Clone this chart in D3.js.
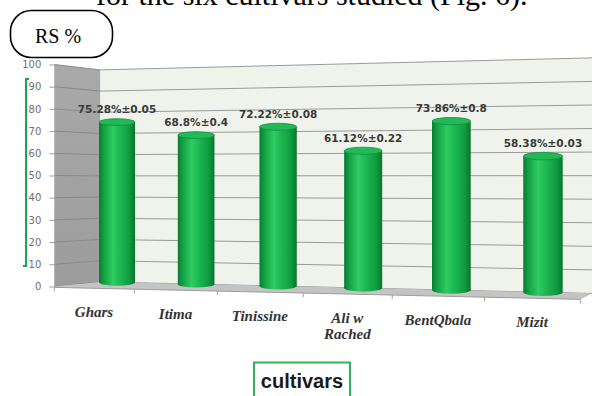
<!DOCTYPE html>
<html>
<head>
<meta charset="utf-8">
<script src="https://cdn.jsdelivr.net/npm/d3@7"></script>
<style>
  html, body { margin: 0; padding: 0; background: #fff; }
  svg { display: block; }
</style>
</head>
<body>
<svg id="chart" width="592" height="396"></svg>
<script>
// ---- data ----
const categories = ["Ghars", "Itima", "Tinissine", "Ali w Rached", "BentQbala", "Mizit"];
const categoryLines = [["Ghars"], ["Itima"], ["Tinissine"], ["Ali w", "Rached"], ["BentQbala"], ["Mizit"]];
const values = [75.28, 68.8, 72.22, 61.12, 73.86, 58.38];
const errors = [0.05, 0.4, 0.08, 0.22, 0.8, 0.03];
const yTicks = [0, 10, 20, 30, 40, 50, 60, 70, 80, 90, 100];
const yAxisTitle = "RS %";
const xAxisTitle = "cultivars";
const captionText = "for the six cultivars studied (Fig. 6).";

// ---- perspective helpers (layout) ----
const svg = d3.select("#chart");
const c = 0.0875;                 // perspective convergence
const yH = 178, vH = 49;          // horizon
const s = uu => 1 / (1 - c * uu);
const xWorld = d3.scalePoint().domain(categories).range([0, 1]);
const xLin = d3.scaleLinear().domain([0, 1]).range([117, 117 + 388.7]);
const vScale = d3.scaleLinear().domain([0, 100]).range([0, -212.8]);
const X = uu => 117 + (xLin(uu) - 117) * s(uu);
const Y = (uu, v) => yH + (vScale(v) - vScale(vH)) * s(uu);
const frontDx = d3.scaleLinear().domain([0, 1]).range([-23, -11]);
const frontDy = 6;
const yFront = d3.scaleLinear().domain([0, 100]).range([286.5, 64.5]);

const step = xWorld.step();
const uL = -0.0436, uR = 1.104;          // back wall extent
const uF0 = -step / 2, uF1 = 1 + step / 2; // floor front extent
const sideFrontX = X(uF0) + frontDx(uF0);

// defs
const defs = svg.append("defs");
const g1 = defs.append("linearGradient").attr("id", "cyl").attr("x1", 0).attr("x2", 1).attr("y1", 0).attr("y2", 0);
[["0%", "#0a7c31"], ["14%", "#14a244"], ["38%", "#2fcb63"], ["60%", "#1cb550"], ["85%", "#109a3f"], ["100%", "#087530"]]
  .forEach(([o, col]) => g1.append("stop").attr("offset", o).attr("stop-color", col));
const g2 = defs.append("linearGradient").attr("id", "side").attr("x1", 0).attr("x2", 0).attr("y1", 0).attr("y2", 1);
[["0%", "#a9a9a9"], ["100%", "#9c9c9c"]].forEach(([o, col]) => g2.append("stop").attr("offset", o).attr("stop-color", col));

// caption (clipped at top)
svg.append("text").attr("x", 96).attr("y", 5)
  .attr("font-family", "Liberation Serif, Times New Roman, serif").attr("font-size", 30)
  .attr("fill", "#000").text(captionText);

// back wall
const wallPts = [[X(uL), Y(uL, 100)], [X(uR), Y(uR, 100)], [X(uR), Y(uR, 0)], [X(uL), Y(uL, 0)]];
svg.append("polygon").attr("points", wallPts.map(p => p.join(",")).join(" ")).attr("fill", "#eff3ec");

// side wall
const sidePts = [[sideFrontX, yFront(100)], [X(uL), Y(uL, 100)], [X(uL), Y(uL, 0)], [sideFrontX, yFront(0)]];
svg.append("polygon").attr("points", sidePts.map(p => p.join(",")).join(" ")).attr("fill", "url(#side)");

// gridlines
const grid = svg.append("g");
grid.selectAll("line.back").data(yTicks).join("line")
  .attr("x1", X(uL)).attr("x2", X(uR))
  .attr("y1", d => Y(uL, d)).attr("y2", d => Y(uR, d))
  .attr("stroke", "#9a9a9a").attr("stroke-width", 1);
grid.selectAll("line.side").data(yTicks).join("line")
  .attr("x1", sideFrontX).attr("x2", X(uL))
  .attr("y1", d => yFront(d)).attr("y2", d => Y(uL, d))
  .attr("stroke", "#8a8a8a").attr("stroke-width", 1);

// floor
const floorSteps = d3.range(0, 1.0001, 0.05);
const backEdge = floorSteps.map(t => { const uu = uL + (uR - uL) * t; return [X(uu), Y(uu, 0)]; });
const frontEdge = floorSteps.map(t => { const uu = uF0 + (uF1 - uF0) * t; return [X(uu) + frontDx(uu), Y(uu, 0) + frontDy]; });
const floorPoly = [[sideFrontX, yFront(0)]].concat(backEdge, frontEdge.slice().reverse());
svg.append("polygon").attr("points", floorPoly.map(p => p.join(",")).join(" "))
  .attr("fill", "#c4c4c4");
svg.append("path").attr("d", d3.line()(frontEdge)).attr("fill", "none").attr("stroke", "#9c9c9c").attr("stroke-width", 1);

// x ticks on floor front edge
const boundaries = [uF0].concat(categories.map(cat => xWorld(cat) + step / 2));
svg.selectAll("line.xt").data(boundaries).join("line")
  .attr("x1", d => X(d) + frontDx(d)).attr("x2", d => X(d) + frontDx(d))
  .attr("y1", d => Y(d, 0) + frontDy).attr("y2", d => Y(d, 0) + frontDy + 4)
  .attr("stroke", "#a0a0a0");

// y axis (front edge of side wall)
const yAxis = d3.axisLeft(yFront).tickValues(yTicks).tickSize(5).tickPadding(8).tickFormat(d3.format("d"));
const ag = svg.append("g").attr("transform", `translate(${sideFrontX},0)`).call(yAxis);
ag.select(".domain").remove();
ag.selectAll(".tick line").attr("stroke", "#a0a0a0");
ag.selectAll(".tick text").attr("font-family", "DejaVu Sans, sans-serif").attr("font-size", 10)
  .attr("fill", "#707070");

// green bracket
svg.append("path").attr("d", "M29,79 H26 V266 H23").attr("fill", "none")
  .attr("stroke", "#1fa552").attr("stroke-width", 2);

// bars (cylinders)
const bars = svg.append("g");
const rows = categories.map((cat, i) => ({ cat, v: values[i], e: errors[i], lines: categoryLines[i], u: xWorld(cat) }));
rows.forEach(d => {
  const cx = X(d.u), sc = s(d.u);
  const w = 36 * sc, ry = 3.4 * sc;
  const yTop = Y(d.u, d.v), yBase = Y(d.u, 0);
  const g = bars.append("g");
  g.append("ellipse").attr("cx", cx).attr("cy", yBase).attr("rx", w / 2).attr("ry", ry).attr("fill", "url(#cyl)");
  g.append("rect").attr("x", cx - w / 2).attr("y", yTop).attr("width", w).attr("height", yBase - yTop).attr("fill", "url(#cyl)");
  g.append("ellipse").attr("cx", cx).attr("cy", yTop).attr("rx", w / 2).attr("ry", ry)
    .attr("fill", "#22b957").attr("stroke", "#12913f").attr("stroke-width", 0.8);
});

// value labels
svg.selectAll("text.val").data(rows).join("text")
  .attr("x", d => X(d.u)).attr("y", d => Y(d.u, d.v) - 9)
  .attr("text-anchor", "middle")
  .attr("font-family", "DejaVu Sans, sans-serif").attr("font-weight", "bold").attr("font-size", 10.5)
  .attr("fill", "#3a3a3a")
  .text(d => `${d.v}%±${d.e}`);

// category labels
const cl = svg.selectAll("text.cat").data(rows).join("text")
  .attr("text-anchor", "middle")
  .attr("font-family", "Liberation Serif, Times New Roman, serif").attr("font-weight", "bold")
  .attr("font-style", "italic").attr("font-size", 15).attr("fill", "#333");
cl.each(function (d) {
  const t = d3.select(this);
  const x0 = X(d.u) + frontDx(d.u), y0 = Y(d.u, 0) + frontDy + 29;
  d.lines.forEach((ln, k) => t.append("tspan").attr("x", x0).attr("y", y0 + k * 16).text(ln));
});

// y axis title box
svg.append("rect").attr("x", 10.5).attr("y", 10.5).attr("width", 102).attr("height", 47).attr("rx", 21).attr("ry", 21)
  .attr("fill", "#fff").attr("stroke", "#000").attr("stroke-width", 1.6);
svg.append("text").attr("x", 35).attr("y", 43)
  .attr("font-family", "Liberation Serif, Times New Roman, serif").attr("font-size", 20).attr("fill", "#000")
  .text(yAxisTitle);

// x axis title box
svg.append("rect").attr("x", 254).attr("y", 362.5).attr("width", 96).attr("height", 40)
  .attr("fill", "#fff").attr("stroke", "#2fb35b").attr("stroke-width", 2);
svg.append("text").attr("x", 302).attr("y", 388).attr("text-anchor", "middle")
  .attr("font-family", "Liberation Sans, Arial, sans-serif").attr("font-weight", "bold").attr("font-size", 20)
  .attr("fill", "#1a1a1a").text(xAxisTitle);
</script>
</body>
</html>
